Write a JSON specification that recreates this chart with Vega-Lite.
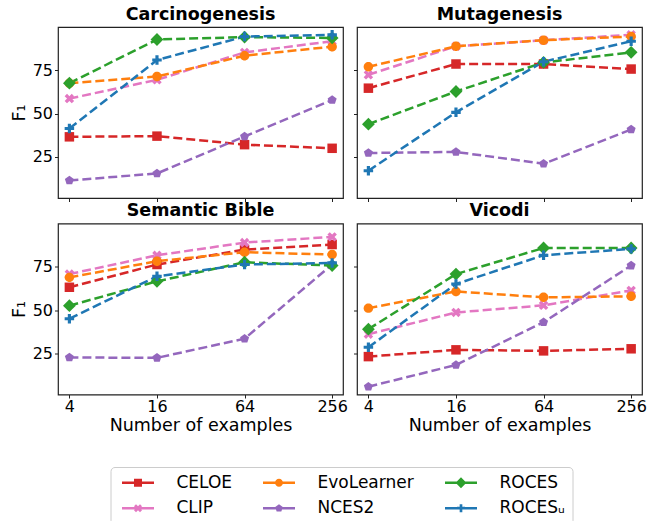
{
  "$schema": "https://vega.github.io/schema/vega-lite/v6.json",
  "padding": {"left": 9, "top": 4, "right": 5, "bottom": 85},
  "background": "white",
  "datasets": {
    "scores": [
      {"dataset": "Carcinogenesis", "method": "CELOE", "n": 4, "f1": 36.6},
      {"dataset": "Carcinogenesis", "method": "CELOE", "n": 16, "f1": 37.0},
      {"dataset": "Carcinogenesis", "method": "CELOE", "n": 64, "f1": 32.1},
      {"dataset": "Carcinogenesis", "method": "CELOE", "n": 256, "f1": 30.0},
      {"dataset": "Carcinogenesis", "method": "CLIP", "n": 4, "f1": 58.6},
      {"dataset": "Carcinogenesis", "method": "CLIP", "n": 16, "f1": 69.4},
      {"dataset": "Carcinogenesis", "method": "CLIP", "n": 64, "f1": 85.2},
      {"dataset": "Carcinogenesis", "method": "CLIP", "n": 256, "f1": 91.6},
      {"dataset": "Carcinogenesis", "method": "EvoLearner", "n": 4, "f1": 67.5},
      {"dataset": "Carcinogenesis", "method": "EvoLearner", "n": 16, "f1": 71.3},
      {"dataset": "Carcinogenesis", "method": "EvoLearner", "n": 64, "f1": 83.3},
      {"dataset": "Carcinogenesis", "method": "EvoLearner", "n": 256, "f1": 88.5},
      {"dataset": "Carcinogenesis", "method": "NCES2", "n": 4, "f1": 11.5},
      {"dataset": "Carcinogenesis", "method": "NCES2", "n": 16, "f1": 15.5},
      {"dataset": "Carcinogenesis", "method": "NCES2", "n": 64, "f1": 36.8},
      {"dataset": "Carcinogenesis", "method": "NCES2", "n": 256, "f1": 57.8},
      {"dataset": "Carcinogenesis", "method": "ROCES", "n": 4, "f1": 67.5},
      {"dataset": "Carcinogenesis", "method": "ROCES", "n": 16, "f1": 92.6},
      {"dataset": "Carcinogenesis", "method": "ROCES", "n": 64, "f1": 94.0},
      {"dataset": "Carcinogenesis", "method": "ROCES", "n": 256, "f1": 93.5},
      {"dataset": "Carcinogenesis", "method": "ROCES_U", "n": 4, "f1": 41.4},
      {"dataset": "Carcinogenesis", "method": "ROCES_U", "n": 16, "f1": 80.8},
      {"dataset": "Carcinogenesis", "method": "ROCES_U", "n": 64, "f1": 94.3},
      {"dataset": "Carcinogenesis", "method": "ROCES_U", "n": 256, "f1": 95.3},

      {"dataset": "Mutagenesis", "method": "CELOE", "n": 4, "f1": 64.6},
      {"dataset": "Mutagenesis", "method": "CELOE", "n": 16, "f1": 78.5},
      {"dataset": "Mutagenesis", "method": "CELOE", "n": 64, "f1": 78.5},
      {"dataset": "Mutagenesis", "method": "CELOE", "n": 256, "f1": 75.6},
      {"dataset": "Mutagenesis", "method": "CLIP", "n": 4, "f1": 72.3},
      {"dataset": "Mutagenesis", "method": "CLIP", "n": 16, "f1": 88.7},
      {"dataset": "Mutagenesis", "method": "CLIP", "n": 64, "f1": 92.2},
      {"dataset": "Mutagenesis", "method": "CLIP", "n": 256, "f1": 95.3},
      {"dataset": "Mutagenesis", "method": "EvoLearner", "n": 4, "f1": 76.9},
      {"dataset": "Mutagenesis", "method": "EvoLearner", "n": 16, "f1": 88.7},
      {"dataset": "Mutagenesis", "method": "EvoLearner", "n": 64, "f1": 92.2},
      {"dataset": "Mutagenesis", "method": "EvoLearner", "n": 256, "f1": 94.3},
      {"dataset": "Mutagenesis", "method": "NCES2", "n": 4, "f1": 27.3},
      {"dataset": "Mutagenesis", "method": "NCES2", "n": 16, "f1": 27.9},
      {"dataset": "Mutagenesis", "method": "NCES2", "n": 64, "f1": 21.1},
      {"dataset": "Mutagenesis", "method": "NCES2", "n": 256, "f1": 40.8},
      {"dataset": "Mutagenesis", "method": "ROCES", "n": 4, "f1": 43.9},
      {"dataset": "Mutagenesis", "method": "ROCES", "n": 16, "f1": 62.7},
      {"dataset": "Mutagenesis", "method": "ROCES", "n": 64, "f1": 79.4},
      {"dataset": "Mutagenesis", "method": "ROCES", "n": 256, "f1": 85.2},
      {"dataset": "Mutagenesis", "method": "ROCES_U", "n": 4, "f1": 17.1},
      {"dataset": "Mutagenesis", "method": "ROCES_U", "n": 16, "f1": 50.7},
      {"dataset": "Mutagenesis", "method": "ROCES_U", "n": 64, "f1": 79.8},
      {"dataset": "Mutagenesis", "method": "ROCES_U", "n": 256, "f1": 91.6},

      {"dataset": "Semantic Bible", "method": "CELOE", "n": 4, "f1": 63.1},
      {"dataset": "Semantic Bible", "method": "CELOE", "n": 16, "f1": 76.2},
      {"dataset": "Semantic Bible", "method": "CELOE", "n": 64, "f1": 84.8},
      {"dataset": "Semantic Bible", "method": "CELOE", "n": 256, "f1": 87.7},
      {"dataset": "Semantic Bible", "method": "CLIP", "n": 4, "f1": 70.7},
      {"dataset": "Semantic Bible", "method": "CLIP", "n": 16, "f1": 81.5},
      {"dataset": "Semantic Bible", "method": "CLIP", "n": 64, "f1": 88.8},
      {"dataset": "Semantic Bible", "method": "CLIP", "n": 256, "f1": 92.1},
      {"dataset": "Semantic Bible", "method": "EvoLearner", "n": 4, "f1": 68.8},
      {"dataset": "Semantic Bible", "method": "EvoLearner", "n": 16, "f1": 78.1},
      {"dataset": "Semantic Bible", "method": "EvoLearner", "n": 64, "f1": 83.3},
      {"dataset": "Semantic Bible", "method": "EvoLearner", "n": 256, "f1": 81.9},
      {"dataset": "Semantic Bible", "method": "NCES2", "n": 4, "f1": 22.7},
      {"dataset": "Semantic Bible", "method": "NCES2", "n": 16, "f1": 22.5},
      {"dataset": "Semantic Bible", "method": "NCES2", "n": 64, "f1": 33.5},
      {"dataset": "Semantic Bible", "method": "NCES2", "n": 256, "f1": 76.2},
      {"dataset": "Semantic Bible", "method": "ROCES", "n": 4, "f1": 52.5},
      {"dataset": "Semantic Bible", "method": "ROCES", "n": 16, "f1": 66.5},
      {"dataset": "Semantic Bible", "method": "ROCES", "n": 64, "f1": 77.5},
      {"dataset": "Semantic Bible", "method": "ROCES", "n": 256, "f1": 75.6},
      {"dataset": "Semantic Bible", "method": "ROCES_U", "n": 4, "f1": 45.0},
      {"dataset": "Semantic Bible", "method": "ROCES_U", "n": 16, "f1": 69.4},
      {"dataset": "Semantic Bible", "method": "ROCES_U", "n": 64, "f1": 76.2},
      {"dataset": "Semantic Bible", "method": "ROCES_U", "n": 256, "f1": 77.1},

      {"dataset": "Vicodi", "method": "CELOE", "n": 4, "f1": 23.2},
      {"dataset": "Vicodi", "method": "CELOE", "n": 16, "f1": 27.1},
      {"dataset": "Vicodi", "method": "CELOE", "n": 64, "f1": 26.5},
      {"dataset": "Vicodi", "method": "CELOE", "n": 256, "f1": 27.7},
      {"dataset": "Vicodi", "method": "CLIP", "n": 4, "f1": 36.1},
      {"dataset": "Vicodi", "method": "CLIP", "n": 16, "f1": 48.6},
      {"dataset": "Vicodi", "method": "CLIP", "n": 64, "f1": 52.7},
      {"dataset": "Vicodi", "method": "CLIP", "n": 256, "f1": 61.3},
      {"dataset": "Vicodi", "method": "EvoLearner", "n": 4, "f1": 51.1},
      {"dataset": "Vicodi", "method": "EvoLearner", "n": 16, "f1": 60.7},
      {"dataset": "Vicodi", "method": "EvoLearner", "n": 64, "f1": 57.3},
      {"dataset": "Vicodi", "method": "EvoLearner", "n": 256, "f1": 57.9},
      {"dataset": "Vicodi", "method": "NCES2", "n": 4, "f1": 5.9},
      {"dataset": "Vicodi", "method": "NCES2", "n": 16, "f1": 18.4},
      {"dataset": "Vicodi", "method": "NCES2", "n": 64, "f1": 43.0},
      {"dataset": "Vicodi", "method": "NCES2", "n": 256, "f1": 75.6},
      {"dataset": "Vicodi", "method": "ROCES", "n": 4, "f1": 39.0},
      {"dataset": "Vicodi", "method": "ROCES", "n": 16, "f1": 70.7},
      {"dataset": "Vicodi", "method": "ROCES", "n": 64, "f1": 85.7},
      {"dataset": "Vicodi", "method": "ROCES", "n": 256, "f1": 85.7},
      {"dataset": "Vicodi", "method": "ROCES_U", "n": 4, "f1": 28.6},
      {"dataset": "Vicodi", "method": "ROCES_U", "n": 16, "f1": 65.0},
      {"dataset": "Vicodi", "method": "ROCES_U", "n": 64, "f1": 81.5},
      {"dataset": "Vicodi", "method": "ROCES_U", "n": 256, "f1": 85.2}
    ]
  },
  "data": {"name": "scores"},
  "columns": 2,
  "spacing": {"column": 3, "row": -2.5},
  "concat": [
    {
      "title": "Carcinogenesis",
      "width": 285, "height": 171,
      "transform": [{"filter": "datum.dataset === 'Carcinogenesis'"}],
      "layer": [
        {
          "mark": {"type": "line", "strokeDash": [9, 4], "strokeWidth": 2.5},
          "encoding": {
            "x": {"field": "n", "type": "quantitative", "scale": {"type": "log", "base": 2, "domain": [3.34, 304], "nice": false}, "axis": {"values": [4, 16, 64, 256], "labels": false, "title": null}},
            "y": {"field": "f1", "type": "quantitative", "scale": {"domain": [1.4, 99.8], "nice": false, "zero": false}, "axis": {"values": [25, 50, 75], "title": "F₁"}},
            "color": {"field": "method", "type": "nominal", "scale": {"range": ["#d62728", "#e377c2", "#ff7f0e", "#9467bd", "#2ca02c", "#1f77b4"]},
              "legend": {"orient": "none", "legendX": 52.5, "legendY": 440, "columns": 3, "title": null, "labelFontSize": 17, "labelFont": "DejaVu Sans", "labelColor": "black", "symbolSize": 64, "symbolOffset": 12, "labelOffset": 30, "rowPadding": 7.7, "columnPadding": 26, "padding": 7, "strokeColor": "#cccccc", "cornerRadius": 4, "fillColor": "white",
                "labelExpr": "datum.label === 'ROCES_U' ? 'ROCESᵤ' : datum.label",
                "encoding": {"symbols": {"size": {"value": 64}, "strokeWidth": {"value": 0}, "opacity": {"value": 1}, "fillOpacity": {"value": 1}, "fill": {"value": {"expr": "scale('color', datum.value)"}}, "shape": {"value": {"expr": "datum.value === 'CELOE' ? 'M-4,-0.3H4V0.3H-4Z M-1,-1H1V1H-1Z' : datum.value === 'CLIP' ? 'M-4,-0.3H4V0.3H-4Z M-0.5,-1L0,-0.5L0.5,-1L1,-0.5L0.5,0L1,0.5L0.5,1L0,0.5L-0.5,1L-1,0.5L-0.5,0L-1,-0.5Z' : datum.value === 'EvoLearner' ? 'M-4,-0.3H4V0.3H-4Z M-1,0A1,1,0,1,1,1,0A1,1,0,1,1,-1,0Z' : datum.value === 'NCES2' ? 'M-4,-0.3H4V0.3H-4Z M0,-1L0.951,-0.309L0.588,0.809L-0.588,0.809L-0.951,-0.309Z' : datum.value === 'ROCES' ? 'M-4,-0.3H4V0.3H-4Z M0,-1.35L1.35,0L0,1.35L-1.35,0Z' : 'M-4,-0.3H4V0.3H-4Z M-0.333,-1H0.333V-0.333H1V0.333H0.333V1H-0.333V0.333H-1V-0.333H-0.333Z'"}}}}
              }
            }
          }
        },
        {
          "mark": {"type": "point", "filled": true, "opacity": 1, "size": 90},
          "encoding": {
            "x": {"field": "n", "type": "quantitative"},
            "y": {"field": "f1", "type": "quantitative"},
            "color": {"field": "method", "type": "nominal"},
            "shape": {"field": "method", "type": "nominal", "legend": null, "scale": {"domain": ["CELOE", "CLIP", "EvoLearner", "NCES2", "ROCES", "ROCES_U"], "range": ["M-1,-1H1V1H-1Z", "M-0.5,-1L0,-0.5L0.5,-1L1,-0.5L0.5,0L1,0.5L0.5,1L0,0.5L-0.5,1L-1,0.5L-0.5,0L-1,-0.5Z", "M-1,0A1,1,0,1,1,1,0A1,1,0,1,1,-1,0Z", "M0,-1L0.951,-0.309L0.588,0.809L-0.588,0.809L-0.951,-0.309Z", "M0,-1.35L1.35,0L0,1.35L-1.35,0Z", "M-0.333,-1H0.333V-0.333H1V0.333H0.333V1H-0.333V0.333H-1V-0.333H-0.333Z"]}}
          }
        }
      ]
    },
    {
      "title": "Mutagenesis",
      "width": 285, "height": 171,
      "transform": [{"filter": "datum.dataset === 'Mutagenesis'"}],
      "layer": [
        {
          "mark": {"type": "line", "strokeDash": [9, 4], "strokeWidth": 2.5},
          "encoding": {
            "x": {"field": "n", "type": "quantitative", "scale": {"type": "log", "base": 2, "domain": [3.34, 304], "nice": false}, "axis": {"values": [4, 16, 64, 256], "labels": false, "title": null}},
            "y": {"field": "f1", "type": "quantitative", "scale": {"domain": [1.4, 99.8], "nice": false, "zero": false}, "axis": {"values": [25, 50, 75], "labels": false, "title": null}},
            "color": {"field": "method", "type": "nominal"}
          }
        },
        {
          "mark": {"type": "point", "filled": true, "opacity": 1, "size": 90},
          "encoding": {
            "x": {"field": "n", "type": "quantitative"},
            "y": {"field": "f1", "type": "quantitative"},
            "color": {"field": "method", "type": "nominal"},
            "shape": {"field": "method", "type": "nominal", "legend": null}
          }
        }
      ]
    },
    {
      "title": "Semantic Bible",
      "width": 285, "height": 171,
      "transform": [{"filter": "datum.dataset === 'Semantic Bible'"}],
      "layer": [
        {
          "mark": {"type": "line", "strokeDash": [9, 4], "strokeWidth": 2.5},
          "encoding": {
            "x": {"field": "n", "type": "quantitative", "scale": {"type": "log", "base": 2, "domain": [3.34, 304], "nice": false}, "axis": {"values": [4, 16, 64, 256], "format": "d", "title": "Number of examples", "labelPadding": 0, "titlePadding": 2}},
            "y": {"field": "f1", "type": "quantitative", "scale": {"domain": [1.4, 99.8], "nice": false, "zero": false}, "axis": {"values": [25, 50, 75], "title": "F₁"}},
            "color": {"field": "method", "type": "nominal"}
          }
        },
        {
          "mark": {"type": "point", "filled": true, "opacity": 1, "size": 90},
          "encoding": {
            "x": {"field": "n", "type": "quantitative"},
            "y": {"field": "f1", "type": "quantitative"},
            "color": {"field": "method", "type": "nominal"},
            "shape": {"field": "method", "type": "nominal", "legend": null}
          }
        }
      ]
    },
    {
      "title": "Vicodi",
      "width": 285, "height": 171,
      "transform": [{"filter": "datum.dataset === 'Vicodi'"}],
      "layer": [
        {
          "mark": {"type": "line", "strokeDash": [9, 4], "strokeWidth": 2.5},
          "encoding": {
            "x": {"field": "n", "type": "quantitative", "scale": {"type": "log", "base": 2, "domain": [3.34, 304], "nice": false}, "axis": {"values": [4, 16, 64, 256], "format": "d", "title": "Number of examples", "labelPadding": 0, "titlePadding": 2}},
            "y": {"field": "f1", "type": "quantitative", "scale": {"domain": [1.4, 99.8], "nice": false, "zero": false}, "axis": {"values": [25, 50, 75], "labels": false, "title": null}},
            "color": {"field": "method", "type": "nominal"}
          }
        },
        {
          "mark": {"type": "point", "filled": true, "opacity": 1, "size": 90},
          "encoding": {
            "x": {"field": "n", "type": "quantitative"},
            "y": {"field": "f1", "type": "quantitative"},
            "color": {"field": "method", "type": "nominal"},
            "shape": {"field": "method", "type": "nominal", "legend": null}
          }
        }
      ]
    }
  ],
  "resolve": {"scale": {"x": "independent", "y": "independent"}},
  "config": {
    "font": "DejaVu Sans",
    "view": {"stroke": "#222222", "strokeWidth": 1.2},
    "axis": {"domain": false, "grid": false, "tickColor": "#222222", "tickSize": 3.5, "tickWidth": 1, "labelFontSize": 16, "labelColor": "black", "labelFont": "DejaVu Sans", "labelPadding": 2, "titleFontSize": 17.5, "titleFontWeight": "normal", "titleColor": "black", "titleFont": "DejaVu Sans", "titlePadding": 4},
    "title": {"fontSize": 17.5, "fontWeight": "bold", "font": "DejaVu Sans", "color": "black", "offset": 4, "baseline": "alphabetic"}
  }
}
